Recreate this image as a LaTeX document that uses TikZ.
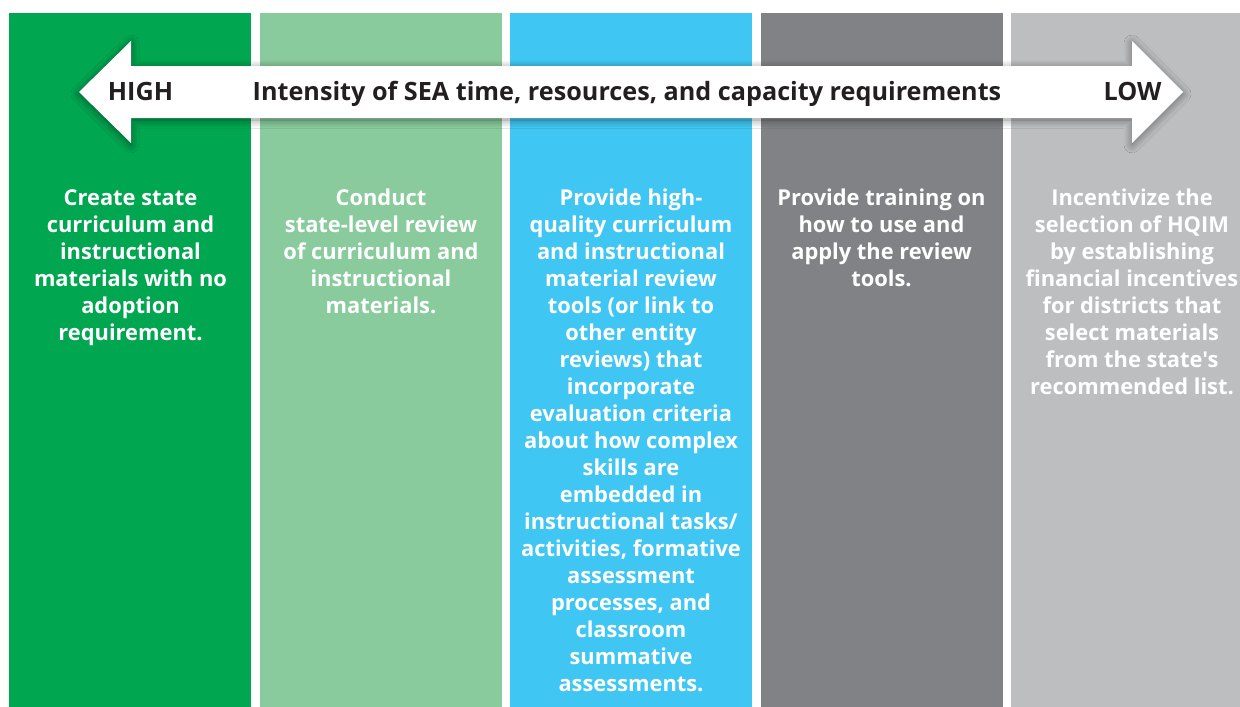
\documentclass[tikz,border=0pt]{standalone}
\usepackage{fontspec}
\setmainfont{Open Sans}[Ligatures=TeXOff]
\usetikzlibrary{shadows.blur}

\definecolor{stepgreen}{HTML}{00A650}
\definecolor{steplightgreen}{HTML}{89CB9D}
\definecolor{stepblue}{HTML}{40C6F2}
\definecolor{stepdarkgray}{HTML}{808285}
\definecolor{steplightgray}{HTML}{BCBEC0}
\definecolor{labeldark}{HTML}{231F20}

\begin{document}
\begin{tikzpicture}
      [x=.75pt,y=-.75pt
      ,col/.style={inner sep=0pt,text=white,align=center,anchor=north,
                   font=\fontsize{16.4}{20.25}\selectfont\bfseries}
      ,arr/.style={fill=white,blur shadow={shadow xshift=0pt,shadow yshift=-1.5pt,
                   shadow blur radius=6pt,shadow blur steps=12,shadow opacity=45}}
      ,arrlabel/.style={inner sep=0pt,anchor=base,text=labeldark,font=\fontsize{18.9}{20}\selectfont\bfseries}
      ]
        \useasboundingbox[fill=white] (0,0) rectangle (1240,707);
        % the five columns
        \foreach \x/\c in {9/stepgreen,260/steplightgreen,510/stepblue,761/stepdarkgray,1011/steplightgray}{
          \fill[\c] (\x,13) rectangle (\x+242,707);
        }
        \fill[steplightgray] (1200,13) rectangle (1240,707);
        % double arrow
        \path[arr] (79,92) -- (131,41) -- (131,66) -- (1132,66) -- (1132,41) -- (1183,92)
          -- (1132,143) -- (1132,118) -- (131,118) -- (131,143) -- cycle;
        \node[arrlabel] (high) at (140.5,100.5) {HIGH};
        \node[arrlabel] (intensity) at (627,100.5) {Intensity of SEA time, resources, and capacity requirements};
        \node[arrlabel] (low) at (1132.5,100.5) {LOW};
        % column texts
        \node[col] (create) at (130.5,189) {Create state\\curriculum and\\instructional\\materials with no\\adoption\\requirement.};
        \node[col] (conduct) at (381,189) {Conduct\\state-level review\\of curriculum and\\instructional\\materials.};
        \node[col] (tools) at (631,189) {Provide high-\\quality curriculum\\and instructional\\material review\\tools (or link to\\other entity\\reviews) that\\incorporate\\evaluation criteria\\about how complex\\skills are\\embedded in\\instructional tasks/\\activities, formative\\assessment\\processes, and\\classroom\\summative\\assessments.};
        \node[col] (training) at (881.5,189) {Provide training on\\how to use and\\apply the review\\tools.};
        \node[col] (incentive) at (1132,189) {Incentivize the\\selection of HQIM\\by establishing\\financial incentives\\for districts that\\select materials\\from the state's\\recommended list.};
      \end{tikzpicture}
\end{document}
